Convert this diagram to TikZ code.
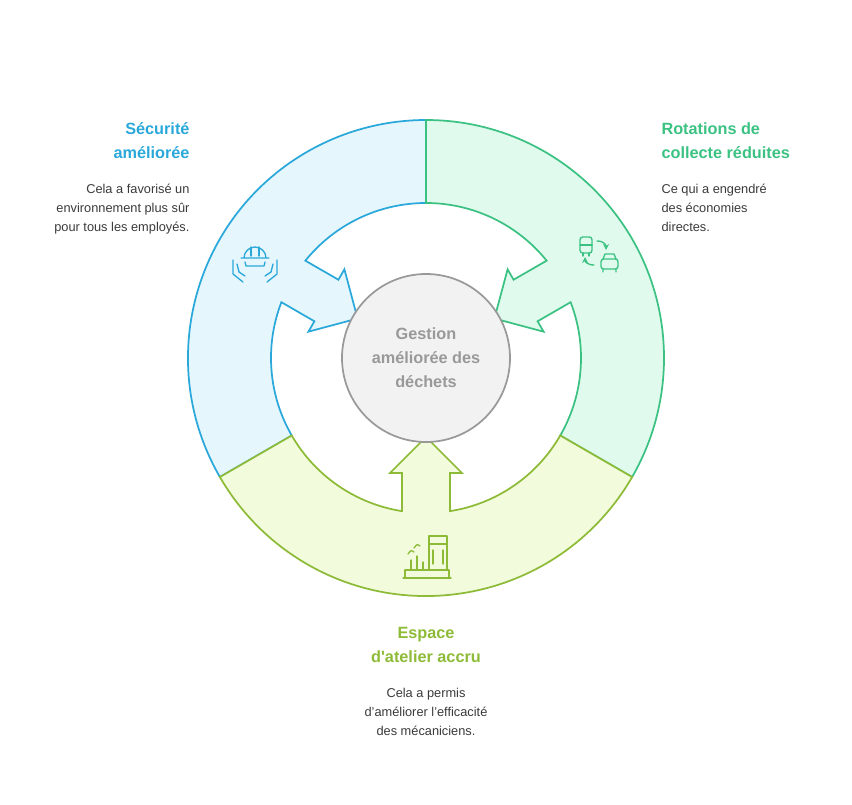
\documentclass[tikz,border=0pt]{standalone}
\usepackage{fontspec}
\setmainfont{Liberation Sans}
\usetikzlibrary{calc}
\definecolor{secblue}{HTML}{2AA8DA}
\definecolor{secbluefill}{HTML}{E6F6FD}
\definecolor{rotgreen}{HTML}{3BC282}
\definecolor{rotgreenfill}{HTML}{E0FAEE}
\definecolor{espyellow}{HTML}{8DBB38}
\definecolor{espyellowfill}{HTML}{F2FCDC}
\definecolor{desctext}{HTML}{3A3A3A}
\begin{document}
\begin{tikzpicture}[x=0.75pt,y=-0.75pt,thick]
    % `sector' is one third of the ring, with its arrow into the hub.
    \tikzset{
      sector/.style={line width=1.3pt,line join=miter},
      title/.style={font=\bfseries\fontsize{12.2}{18}\selectfont,inner sep=0pt},
      desc/.style={font=\fontsize{9.6}{14.2}\selectfont,text=desctext,inner sep=0pt},
      icon/.style={line width=1pt,line cap=round,line join=round}
    }
    \useasboundingbox (0,0) rectangle (852,804);
    \coordinate (hub) at (426,358);
    %
    \foreach \rot/\col in {150/secblue,30/rotgreen,270/espyellow}{
      \begin{scope}[shift={(hub)},rotate=\rot]
        \draw[sector,draw=\col,fill=\col fill]
          (-60:238) arc (-60:60:238) -- (60:155) arc (60:8.9:155)
          -- (115,24) -- (115,36) -- (79,0) -- (115,-36) -- (115,-24)
          -- (-8.9:155) arc (-8.9:-60:155) -- cycle;
      \end{scope}
    }
    \node[circle,draw=gray!80,fill=gray!10,line width=1.3pt,minimum size=168pt*0.75,
          font=\bfseries\fontsize{12.2}{18}\selectfont,text=gray!80,align=center]
          (hubnode) at (hub) {Gestion\\améliorée des\\déchets};
    %
    % Text blocks.
    \node[title,text=secblue,anchor=north east,align=right] (sectitle) at (190,122)
          {Sécurité\\améliorée};
    \node[desc,anchor=north east,align=right] (secdesc) at (190,184)
          {Cela a favorisé un\\environnement plus sûr\\pour tous les employés.};
    \node[title,text=rotgreen,anchor=north west,align=left] (rottitle) at (661,122)
          {Rotations de\\collecte réduites};
    \node[title,text=espyellow,anchor=north,align=center] (esptitle) at (426,627)
          {Espace\\d\textquotesingle atelier accru};
    \node[desc,anchor=north west,align=left] (rotdesc) at (661,184)
          {Ce qui a engendré\\des économies\\directes.};
    \node[desc,anchor=north,align=center] (espdesc) at (426,688)
          {Cela a permis\\d’améliorer l’efficacité\\des mécaniciens.};
    %
    % Icons.
    \begin{scope}[icon,draw=secblue,shift={(255,262)}]
      \draw (-11,-4) arc (180:360:11) (-14,-4) -- (14,-4);
      \draw (-4,-15) -- (-4,-6) (4,-15) -- (4,-6);
      \draw (-10,0) -- (-9,4) -- (9,4) -- (10,0);
      \draw (-22,-2) -- (-22,12) -- (-12,20) (-18,2) -- (-16,10) -- (-10,14);
      \draw (22,-2) -- (22,12) -- (12,20) (18,2) -- (16,10) -- (10,14);
    \end{scope}
    \begin{scope}[icon,draw=rotgreen,shift={(598,255)}]
      \draw[rounded corners=2] (-18,-18) rectangle (-6,-2);
      \draw (-18,-10) -- (-6,-10) (-15,-2) -- (-15,1) (-9,-2) -- (-9,1);
      \draw[->,>=stealth] (-1,-14) .. controls (6,-14) and (8,-10) .. (8,-5);
      \draw[->,>=stealth] (-4,10) .. controls (-11,10) and (-13,6) .. (-13,2);
      \draw[rounded corners=2] (3,4) rectangle (20,14);
      \draw (5,4) -- (7,-1) -- (16,-1) -- (18,4) (5,14) -- (5,17) (18,14) -- (18,17);
    \end{scope}
    \begin{scope}[icon,draw=espyellow,shift={(427,560)}]
      \draw (-24,18) -- (24,18) (-22,18) -- (-22,10) -- (22,10) -- (22,18);
      \draw (2,10) -- (2,-24) -- (20,-24) -- (20,10) (2,-16) -- (20,-16);
      \draw (6,-10) -- (6,4) (16,-10) -- (16,4);
      \draw (-16,10) -- (-16,0) (-10,10) -- (-10,-4) (-4,10) -- (-4,2);
      \draw (-19,-6) .. controls (-16,-10) .. (-13,-8);
      \draw (-13,-12) .. controls (-10,-16) .. (-7,-14);
    \end{scope}
\end{tikzpicture}
\end{document}
